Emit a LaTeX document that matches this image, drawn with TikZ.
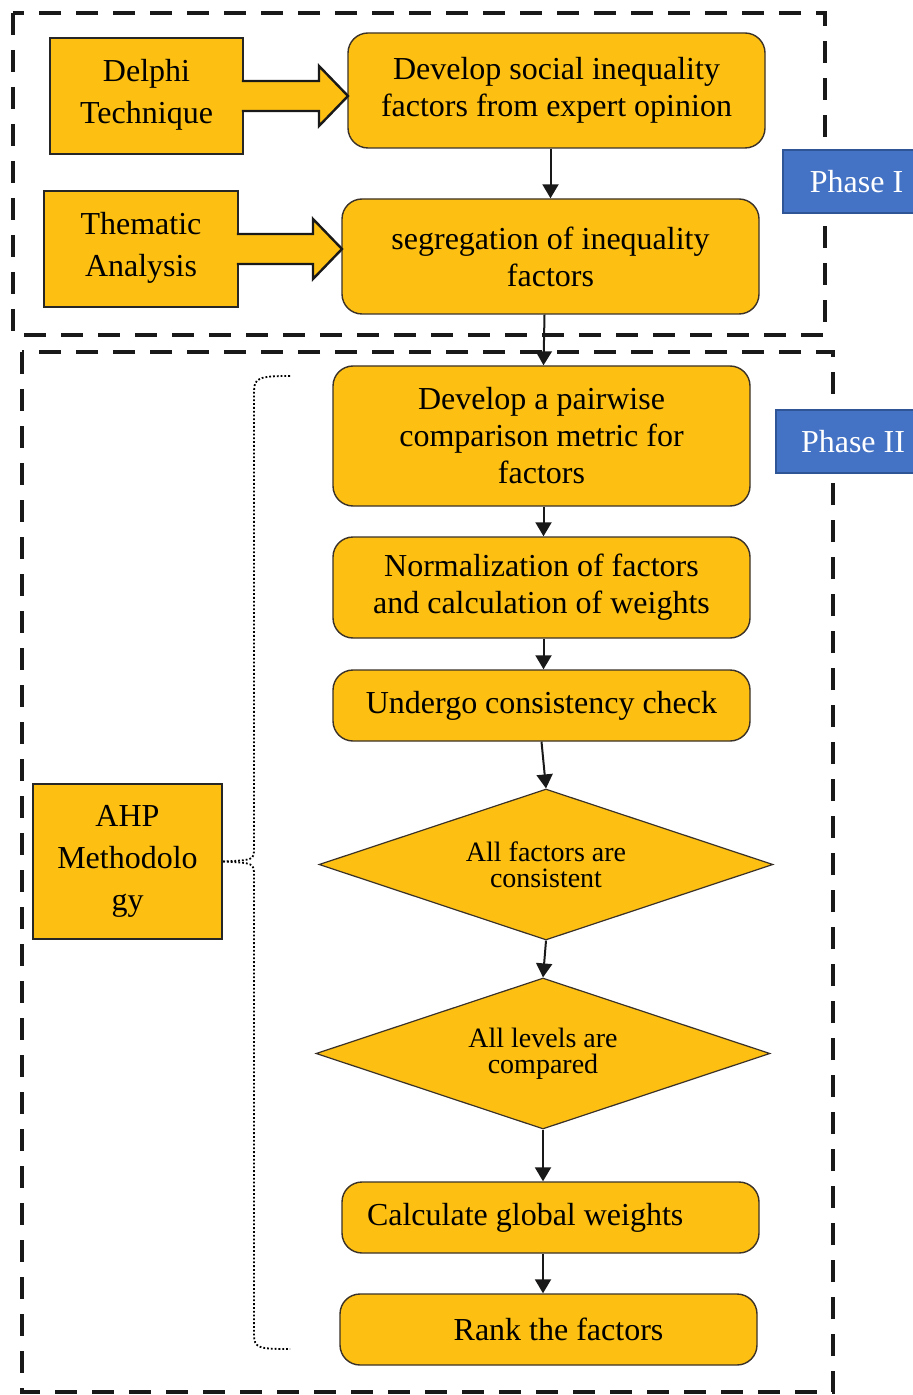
\documentclass[tikz,border=0pt]{standalone}
\usepackage{fontspec}
\setmainfont{Liberation Serif}
\usetikzlibrary{shapes.geometric,arrows.meta,calc}

\definecolor{ahpgold}{HTML}{FCBF12}
\definecolor{phaseblue}{HTML}{4472C4}
\definecolor{phaseedge}{HTML}{2F5597}
\definecolor{boxedge}{HTML}{3A3128}

\tikzset{
  stepbox/.style={draw=boxedge, line width=0.7pt, fill=ahpgold, rounded corners=10pt,
    minimum width=208.5pt, align=center, inner sep=0pt, font=\fontsize{16}{18.5}\selectfont},
  srcbox/.style={draw=black!85, line width=1.2pt, fill=ahpgold, align=center, inner sep=0pt,
    font=\fontsize{16}{21}\selectfont},
  checkdia/.style={diamond, aspect=3, draw=boxedge, line width=0.6pt, fill=ahpgold, inner sep=0pt,
    minimum width=227pt, minimum height=75.5pt, align=center, font=\fontsize{14}{13}\selectfont},
  phasetag/.style={draw=phaseedge, line width=1pt, fill=phaseblue, text=white, inner sep=0pt,
    minimum height=31.5pt, font=\fontsize{16}{18.5}\selectfont},
  phasebox/.style={draw=black!90, line width=2pt, dash pattern=on 11pt off 7.5pt},
  flow/.style={draw=black!90, line width=1pt, -{Triangle[length=7pt,width=8pt]}},
  blockarrow/.style={draw=black!90, line width=1.2pt, fill=ahpgold, line join=miter},
}

\begin{document}
\begin{tikzpicture}[x=0.5pt,y=-0.5pt]
  \useasboundingbox (0,0) rectangle (913,1395);

  % phase frames
  \draw[phasebox] (13,13) rectangle (825,335);
  \draw[phasebox] (22,352) rectangle (833,1392);

  % Phase I
  \node[srcbox, minimum width=96.5pt, minimum height=58pt] (delphi) at (146.5,96) {Delphi\\Technique\\[-16pt]};
  \node[srcbox, minimum width=97pt, minimum height=58pt] (thematic) at (141,249) {Thematic\\Analysis\\[-16pt]};
  \node[stepbox, minimum height=57.5pt] (develop) at (556.5,90.5) {Develop social inequality\\factors from expert opinion};
  \node[stepbox, minimum height=57.5pt] (segregate) at (550.5,256.5) {segregation of inequality\\factors};

  % block arrows
  \draw[blockarrow] (241.8,81) -- (319,81) -- (319,66) -- (348,96) -- (319,126) -- (319,111) -- (241.8,111);
  \draw[blockarrow] (236.8,234) -- (313,234) -- (313,219) -- (342,249) -- (313,279) -- (313,264) -- (236.8,264);

  % Phase II
  \node[stepbox, minimum height=70pt] (pairwise) at (541.5,436) {Develop a pairwise\\comparison metric for\\factors};
  \node[stepbox, minimum height=50.5pt] (normal) at (541.5,587.5) {Normalization of factors\\and calculation of weights};
  \node[stepbox, minimum height=35.5pt] (consist) at (541.5,705.5) {Undergo consistency check};
  \node[checkdia] (fcons) at (546,864.5) {All factors are\\consistent};
  \node[checkdia] (lcomp) at (543,1053.5) {All levels are\\compared};
  \node[stepbox, minimum height=35.5pt, text width=183.5pt, align=flush left] (global) at (550.5,1217.5) {Calculate global weights};
  \node[stepbox, minimum height=35.5pt] (rank) at (548.5,1329.5) {\hspace*{10pt}Rank the factors};

  \node[srcbox, minimum width=94.5pt, minimum height=77.5pt] (ahp) at (127.5,861.5) {AHP\\Methodolo\\gy};

  % phase tags
  \node[phasetag, minimum width=73.5pt] (phaseone) at (856.5,181.5) {Phase I};
  \node[phasetag, minimum width=77pt] (phasetwo) at (853,441.5) {Phase II};

  % connectors
  \draw[flow] (develop.south -| segregate.north) -- (segregate.north);
  \draw[flow] ($(segregate.south)+(-6,0)$) -- ($(pairwise.north)+(2,0)$);
  \draw[flow] ($(pairwise.south)+(2,0)$) -- ($(normal.north)+(2,0)$);
  \draw[flow] ($(normal.south)+(2,0)$) -- ($(consist.north)+(2,0)$);
  \draw[flow] (consist.south) -- (fcons.north);
  \draw[flow] (fcons.south) -- (lcomp.north);
  \draw[flow] (lcomp.south) -- (lcomp.south |- global.north);
  \draw[flow] (lcomp.south |- global.south) -- (lcomp.south |- rank.north);

  % dotted bracket
  \draw[densely dotted, line width=0.9pt] (290,376) .. controls (258,376) and (254,378) .. (254,392)
    -- (254,848) .. controls (254,860) .. (ahp.east);
  \draw[densely dotted, line width=0.9pt] (ahp.east) .. controls (254,863) .. (254,876)
    -- (254,1334) .. controls (254,1348) and (258,1349) .. (290,1349);
\end{tikzpicture}
\end{document}
